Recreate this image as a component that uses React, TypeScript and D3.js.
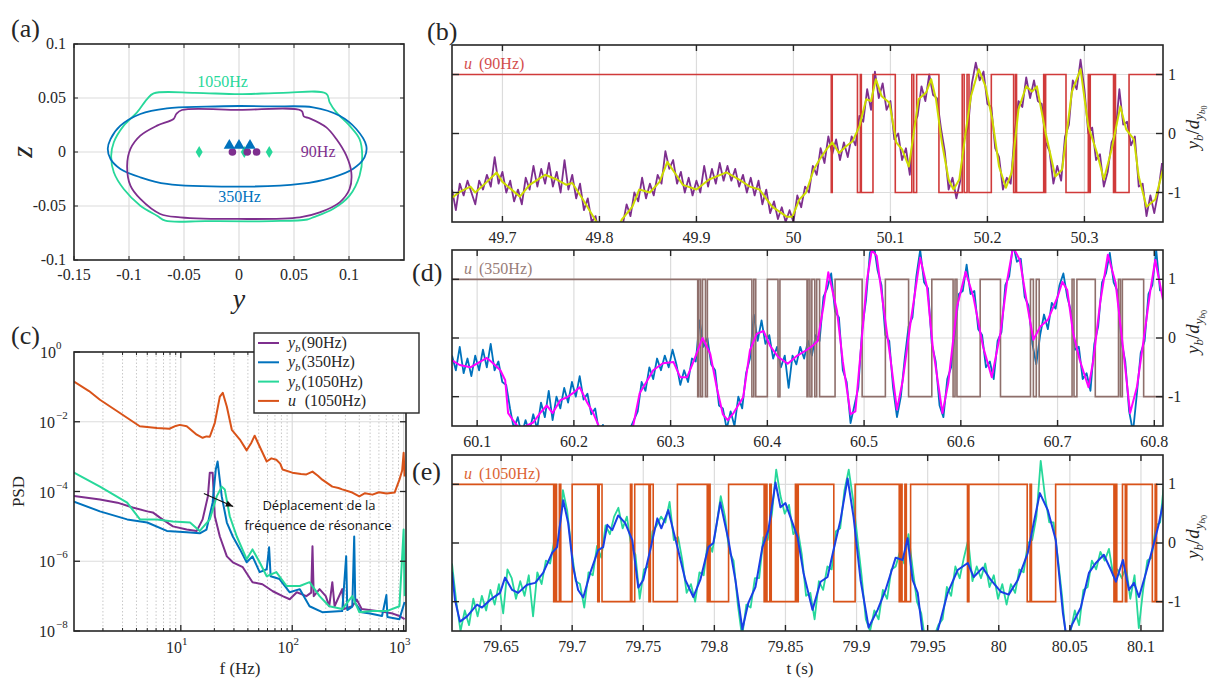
import React from "react";
import * as d3 from "d3";

// ======================= DATA =======================
// ---- Panel (a): contours in the (y, z) plane ----
const CONTOUR_1050: [number, number][] = [
  [-0.0776, 0.0543], [-0.04, 0.0548], [0, 0.0535], [0.04, 0.0548], [0.0794, 0.054],
  [0.0824, 0.046], [0.0885, 0.0367], [0.1005, 0.0244], [0.1096, 0.012], [0.112, -0.0034],
  [0.1096, -0.0219], [0.1005, -0.0404], [0.0854, -0.0528], [0.0673, -0.0605], [0.062, -0.0625],
  [0.03, -0.064], [-0.03, -0.064], [-0.067, -0.0636], [-0.0745, -0.059], [-0.0897, -0.0497],
  [-0.1048, -0.0343], [-0.1138, -0.0188], [-0.1162, -0.0034], [-0.1138, 0.009], [-0.1048, 0.0244],
  [-0.0927, 0.0367], [-0.0836, 0.049],
];
const CONTOUR_350: [number, number][] = [
  [-0.1193, 0.003], [-0.1168, 0.012], [-0.1078, 0.0244], [-0.0897, 0.0352], [-0.0655, 0.0404],
  [-0.03, 0.042], [0, 0.0426], [0.03, 0.0422], [0.0673, 0.0414], [0.0915, 0.0336],
  [0.1066, 0.0213], [0.1157, 0.0058], [0.1141, -0.005], [0.1035, -0.0157], [0.0854, -0.0234],
  [0.0553, -0.0296], [0, -0.0321], [-0.0655, -0.0296], [-0.0897, -0.0234], [-0.1078, -0.0157],
  [-0.1168, -0.0065],
];
const CONTOUR_90: [number, number][] = [
  [-0.0519, 0.0389], [0, 0.039], [0.0568, 0.0383], [0.0589, 0.033], [0.0643, 0.0312],
  [0.0794, 0.0228], [0.0885, 0.012], [0.0976, -0.0034], [0.1021, -0.0188], [0.1005, -0.0343],
  [0.0915, -0.0466], [0.0734, -0.0559], [0.0553, -0.0605], [0, -0.062], [-0.0534, -0.0605],
  [-0.0716, -0.0574], [-0.0897, -0.0435], [-0.0987, -0.0312], [-0.1017, -0.0127], [-0.0987, 0.0028],
  [-0.0897, 0.0151], [-0.0745, 0.0244], [-0.0595, 0.0306], [-0.057, 0.0352],
];
const MARK_350_Y = [-0.0088, 0, 0.01];
const MARK_350_Z = [0.006, 0.006, 0.006];
const MARK_90_Y = [-0.006, 0.0075, 0.016];
const MARK_90_Z = [0, 0, 0];
const MARK_1050_Y = [-0.0362, 0.0048, 0.0275];
const MARK_1050_Z = [0, 0, 0];
const A_XTICKS = [-0.15, -0.1, -0.05, 0, 0.05, 0.1];
const A_YTICKS = [-0.1, -0.05, 0, 0.05, 0.1];

// ---- Panel (c): PSD (frequency in Hz, log10 of PSD) ----
const U1050_F = [1.1, 1.5, 1.88, 2.84, 4.28, 6.1, 7.9, 9.0, 9.8, 11.3, 13.9, 15.7, 17.0, 18.2, 20.2, 22.4, 23.8, 25.9, 28.7, 33.9, 39, 43, 46, 51, 59, 65, 72, 78, 82, 100, 120, 134, 152, 170, 186, 229, 260, 281, 346, 400, 450, 525, 600, 703, 830, 917, 970, 1000, 1020];
const U1050_LP = [-0.85, -1.12, -1.37, -1.75, -2.13, -2.18, -2.2, -2.12, -2.09, -2.13, -2.37, -2.46, -2.42, -2.43, -2.03, -1.28, -1.17, -1.57, -2.23, -2.51, -2.82, -2.6, -2.4, -2.71, -3.14, -3.05, -3.09, -3.2, -3.37, -3.46, -3.5, -3.51, -3.43, -3.55, -3.66, -3.86, -3.9, -3.94, -4.03, -4.14, -4.05, -4.09, -4.02, -4.06, -4.03, -3.66, -3.4, -2.89, -3.57];
const Y90_F = [1.1, 1.88, 2.7, 3.7, 5.0, 5.6, 6.5, 8.5, 11.3, 13.9, 15.7, 17.5, 18.2, 19.3, 20.2, 22.4, 25.9, 29.3, 36, 44, 54, 67, 82, 95, 110, 134, 148, 152, 156, 176, 200, 215, 229, 240, 281, 290, 346, 380, 420, 600, 800, 917, 1020];
const Y90_LP = [-4.13, -4.23, -4.32, -4.46, -4.57, -4.6, -4.75, -5.0, -5.09, -5.13, -4.8, -4.14, -3.46, -3.46, -4.71, -5.29, -5.86, -6.03, -6.17, -6.6, -6.66, -6.86, -7.0, -7.09, -6.89, -7.0, -6.9, -5.57, -7.0, -6.8, -7.0, -7.29, -6.6, -7.29, -6.8, -7.37, -7.29, -7.1, -7.37, -7.43, -7.5, -7.57, -7.66];
const Y350_F = [1.1, 1.88, 3.3, 5, 7.5, 11.3, 14.8, 17, 19.3, 20.6, 21.4, 23.3, 25.9, 29.3, 34, 39, 44, 51, 59, 62, 64, 77, 95, 117, 143, 186, 281, 305, 312, 346, 360, 368, 420, 500, 640, 700, 715, 917, 1020];
const Y350_LP = [-4.29, -4.57, -4.8, -4.89, -5.13, -5.17, -5.2, -5.09, -4.32, -3.37, -3.14, -4.14, -4.89, -5.29, -5.66, -6.03, -5.86, -6.31, -6.23, -5.6, -6.43, -6.51, -6.89, -6.8, -7.29, -7.46, -7.43, -5.86, -7.4, -7.3, -5.29, -7.2, -7.46, -7.5, -7.57, -6.97, -7.6, -7.66, -7.17];
const Y1050_F = [1.1, 1.88, 3.3, 4.3, 6.1, 8.5, 12.1, 14.8, 18.2, 21, 23.3, 24.8, 27.5, 31.8, 39, 44, 51, 59, 72, 89, 117, 143, 176, 215, 281, 346, 400, 525, 703, 917, 1000, 1020];
const Y1050_LP = [-3.46, -3.86, -4.32, -4.8, -4.8, -4.86, -4.89, -5.13, -4.8, -4.14, -3.86, -3.94, -4.71, -5.29, -5.94, -5.66, -6.03, -6.43, -6.31, -6.71, -6.71, -6.6, -7.0, -7.29, -7.37, -7.0, -7.46, -7.43, -7.43, -7.29, -5.09, -7.0];
const C_XMAJOR = [10, 100, 1000];
const C_YMAJOR = [0, -2, -4, -6, -8];
const LEGEND_LABELS = ["90Hz", "350Hz", "1050Hz", "1050Hz"];

// ---- Panel (b): 90 Hz ----
const B_TICKS = [49.7, 49.8, 49.9, 50, 50.1, 50.2, 50.3];
const B_RAW_START = 49.648;
const B_RAW_STEP = 0.004;
const B_RAW = [
  -0.95, -1.30, -0.85, -1.05, -0.80, -1.00, -1.20, -0.80, -0.95, -0.70,
  -0.90, -0.40, -0.85, -0.65, -1.00, -0.80, -1.15, -0.95, -1.20, -0.75,
  -0.95, -0.55, -0.90, -0.60, -0.85, -0.50, -0.90, -0.65, -1.00, -0.45,
  -0.95, -0.70, -1.10, -0.85, -1.30, -1.10, -1.50, -1.40, -1.75, -1.70,
  -1.90, -1.80, -1.90, -1.60, -1.55, -1.20, -1.40, -1.00, -1.15, -0.75,
  -1.10, -0.85, -1.05, -0.70, -0.85, -0.30, -0.60, -0.45, -0.85, -0.65,
  -1.00, -0.75, -1.05, -0.80, -1.00, -0.55, -0.90, -0.60, -0.85, -0.50,
  -0.80, -0.55, -0.80, -0.60, -0.90, -0.70, -1.00, -0.75, -1.05, -0.80,
  -1.20, -0.95, -1.35, -1.15, -1.45, -1.25, -1.50, -1.30, -1.50, -1.05,
  -1.25, -0.90, -1.00, -0.55, -0.70, -0.25, -0.50, -0.05, -0.35, -0.10,
  -0.45, -0.15, -0.40, -0.05, -0.20, 0.30, 0.20, 0.75, 0.40, 1.05,
  0.60, 0.85, 0.40, 0.55, -0.10, 0.00, -0.45, -0.25, -0.70, 0.15,
  0.30, 0.80, 0.55, 1.00, 0.65, 0.60, 0.10, -0.30, -0.95, -0.75,
  -1.10, -0.80, -0.10, 0.10, 0.85, 1.20, 0.90, 1.05, 0.50, 0.45,
  -0.25, -0.40, -0.95, -0.75, -0.85, 0.00, 0.55, 0.45, 0.95, 0.60,
  0.90, 0.55, 0.50, -0.15, -0.30, -0.85, -0.55, -0.80, -0.05, 0.15,
  0.90, 0.75, 1.25, 0.75, 0.00, 0.10, -0.45, -0.35, -0.90, -0.65,
  -0.15, 0.00, 0.75, 0.15, 0.20, -0.20, -0.05, -0.90, -0.85, -1.40,
  -1.05, -1.35, -1.00, -0.50,
];
const B_SMOOTH_T = [49.648, 49.656, 49.667, 49.672, 49.684, 49.694, 49.700, 49.718, 49.728, 49.744, 49.756, 49.766, 49.772, 49.783, 49.797, 49.805, 49.815, 49.823, 49.834, 49.841, 49.852, 49.862, 49.870, 49.879, 49.886, 49.900, 49.913, 49.931, 49.944, 49.955, 49.965, 49.978, 49.993, 49.999, 50.006, 50.013, 50.021, 50.027, 50.034, 50.040, 50.047, 50.054, 50.061, 50.068, 50.075, 50.080, 50.085, 50.091, 50.099, 50.106, 50.112, 50.119, 50.124, 50.129, 50.137, 50.142, 50.147, 50.153, 50.160, 50.165, 50.171, 50.178, 50.183, 50.191, 50.198, 50.205, 50.212, 50.219, 50.225, 50.232, 50.240, 50.246, 50.251, 50.260, 50.270, 50.277, 50.287, 50.296, 50.304, 50.313, 50.320, 50.328, 50.337, 50.343, 50.351, 50.356, 50.364, 50.373, 50.381];
const B_SMOOTH_V = [-1.09, -0.99, -0.90, -1.00, -0.82, -0.66, -0.82, -1.07, -0.87, -0.70, -0.78, -0.87, -0.84, -1.12, -1.50, -1.80, -1.80, -1.46, -1.24, -0.95, -1.00, -0.82, -0.48, -0.70, -0.87, -0.95, -0.78, -0.66, -0.78, -0.90, -0.95, -1.24, -1.41, -1.41, -1.12, -1.00, -0.61, -0.44, -0.27, -0.15, -0.33, -0.22, -0.13, 0.12, 0.58, 0.55, 0.92, 0.63, 0.52, -0.15, -0.27, -0.56, 0.01, 0.58, 0.70, 0.92, 0.58, -0.15, -0.78, -0.95, -0.78, 0.07, 0.63, 1.09, 0.80, 0.24, -0.56, -0.92, -0.66, 0.41, 0.80, 0.71, 0.80, 0.01, -0.73, -0.61, 0.70, 1.09, 0.12, -0.33, -0.78, -0.27, 0.46, 0.07, -0.10, -0.73, -1.24, -1.12, -0.61];
const B_U_SWITCH = [50.039, 50.040, 50.066, 50.069, 50.070, 50.082, 50.105, 50.122, 50.124, 50.127, 50.150, 50.174, 50.176, 50.179, 50.181, 50.204, 50.227, 50.229, 50.230, 50.258, 50.259, 50.260, 50.281, 50.304, 50.305, 50.306, 50.330, 50.331, 50.332, 50.346];

// ---- Panel (d): 350 Hz ----
const D_TICKS = [60.1, 60.2, 60.3, 60.4, 60.5, 60.6, 60.7, 60.8];
const D_RAW_START = 60.074;
const D_RAW_STEP = 0.004;
const D_RAW = [
  -0.30, -0.55, -0.15, -0.60, -0.35, -0.65, -0.30, -0.55, -0.20, -0.50,
  -0.10, -0.55, -0.40, -0.75, -0.80, -1.20, -1.55, -1.35, -1.65, -1.40,
  -1.60, -1.30, -1.55, -1.10, -1.35, -0.90, -1.40, -1.00, -1.20, -0.85,
  -1.10, -0.75, -1.00, -0.65, -1.05, -0.95, -1.30, -1.20, -1.60, -1.48,
  -1.85, -1.75, -1.90, -1.80, -1.85, -1.70, -1.55, -1.40, -1.25, -0.75,
  -0.90, -0.50, -0.70, -0.35, -0.55, -0.30, -0.50, -0.20, -0.45, -0.80,
  -0.55, -0.75, -0.35, -0.40, 0.30, -0.15, 0.00, -0.45, -0.55, -1.15,
  -1.20, -1.55, -1.25, -1.50, -1.00, -1.20, -0.60, -0.35, 0.40, -0.05,
  0.30, -0.10, 0.05, -0.35, -0.15, -0.50, -0.30, -0.85, -0.30, -0.45,
  -0.15, -0.35, -0.05, -0.30, 0.05, -0.05, 0.70, 0.85, 1.10, 0.45,
  0.35, -0.55, -0.75, -1.45, -1.15, -0.85, 0.15, 0.65, 1.45, 1.60,
  1.15, 0.90, 0.05, -0.05, -0.85, -1.35, -1.00, -0.35, 0.20, 0.35,
  1.05, 1.50, 0.95, 0.85, -0.10, -0.40, -1.15, -1.35, -0.70, -0.50,
  0.10, 0.75, 0.80, 1.25, 0.75, 0.80, 0.15, 0.05, -0.50, -0.40,
  -0.70, -0.05, 0.10, 0.90, 1.05, 1.60, 1.30, 1.35, 0.70, 0.55,
  -0.10, -0.45, 0.05, 0.40, 0.15, 0.60, 0.50, 0.90, 1.10, 0.70,
  0.45, -0.20, -0.15, -0.70, -0.60, -0.90, -0.10, 0.20, 0.95, 1.10,
  1.45, 0.95, 0.80, -0.05, -0.40, -1.25, -1.60, -0.95, -0.25, -0.05,
  0.75, 0.90, 1.50, 0.80,
];
const D_SMOOTH_T = [60.074, 60.082, 60.093, 60.110, 60.115, 60.124, 60.129, 60.132, 60.137, 60.144, 60.158, 60.165, 60.172, 60.178, 60.186, 60.193, 60.199, 60.206, 60.214, 60.220, 60.227, 60.237, 60.253, 60.261, 60.268, 60.276, 60.282, 60.292, 60.303, 60.310, 60.317, 60.323, 60.333, 60.341, 60.348, 60.354, 60.359, 60.365, 60.375, 60.382, 60.389, 60.396, 60.403, 60.411, 60.421, 60.431, 60.441, 60.447, 60.452, 60.458, 60.463, 60.472, 60.478, 60.486, 60.491, 60.496, 60.503, 60.508, 60.513, 60.520, 60.527, 60.534, 60.540, 60.548, 60.558, 60.565, 60.571, 60.581, 60.587, 60.596, 60.605, 60.613, 60.623, 60.632, 60.641, 60.648, 60.654, 60.661, 60.669, 60.675, 60.682, 60.690, 60.700, 60.705, 60.710, 60.716, 60.723, 60.732, 60.737, 60.744, 60.752, 60.760, 60.768, 60.775, 60.782, 60.789, 60.796, 60.801, 60.809];
const D_SMOOTH_V = [-0.38, -0.46, -0.50, -0.34, -0.41, -0.55, -0.72, -1.28, -1.40, -1.55, -1.44, -1.28, -1.15, -1.28, -1.06, -1.01, -0.94, -0.84, -1.11, -1.28, -1.55, -1.80, -1.80, -1.52, -0.94, -0.72, -0.55, -0.43, -0.41, -0.67, -0.67, -0.43, 0.00, -0.27, -0.87, -1.30, -1.40, -1.28, -1.01, -0.21, 0.07, 0.12, -0.14, -0.32, -0.44, -0.30, -0.20, -0.13, -0.05, 0.54, 1.12, 0.46, -0.40, -1.30, -1.25, -0.32, 0.99, 1.50, 1.40, 0.53, -0.32, -1.22, -0.72, 0.26, 1.37, 0.87, -0.15, -1.28, -0.77, 0.53, 1.13, 0.70, -0.15, -0.67, 0.09, 0.99, 1.55, 1.33, 0.53, -0.03, 0.19, 0.31, 0.70, 0.96, 0.82, 0.09, -0.38, -0.84, -0.38, 0.60, 1.42, 0.94, -0.21, -1.28, -0.84, -0.03, 0.82, 1.33, 0.65];
const D_U_SWITCH = [60.328, 60.329, 60.331, 60.333, 60.336, 60.338, 60.384, 60.386, 60.388, 60.400, 60.411, 60.413, 60.441, 60.442, 60.444, 60.446, 60.449, 60.451, 60.454, 60.470, 60.498, 60.522, 60.546, 60.570, 60.592, 60.594, 60.596, 60.620, 60.641, 60.672, 60.675, 60.678, 60.681, 60.715, 60.717, 60.720, 60.739, 60.763, 60.765, 60.767, 60.789];

// ---- Panel (e): 1050 Hz ----
const E_TICKS = [79.65, 79.7, 79.75, 79.8, 79.85, 79.9, 79.95, 80, 80.05, 80.1];
const E_RAW_START = 79.6155;
const E_RAW_STEP = 0.003;
const E_RAW = [
  -0.35, -1.00, -1.50, -1.15, -1.40, -0.95, -1.25, -0.90, -1.15, -0.80,
  -1.05, -0.70, -1.20, -0.45, -0.60, -0.95, -0.65, -0.90, -0.55, -1.25,
  -0.50, -0.70, -0.30, -0.35, 0.05, 0.05, 0.90, 0.55, -0.10, -0.65,
  -0.70, -1.10, -0.50, -0.55, -0.05, -0.25, 0.30, 0.15, 0.45, 0.60,
  0.25, 0.45, -0.05, -0.20, -0.95, -0.45, -0.40, 0.20, 0.30, 0.45,
  0.35, 0.70, 0.05, 0.10, -0.30, -0.85, -0.70, -1.00, -0.50, -0.55,
  0.05, -0.15, 0.30, 0.80, 0.45, -0.15, -0.30, -1.05, -1.60, -1.05,
  -1.10, -0.60, -0.60, 0.10, 0.05, 0.50, 1.25, 0.80, 0.50, 0.65,
  0.15, 0.25, -0.20, -0.90, -0.85, -1.30, -0.65, -0.80, -0.40, -0.45,
  0.20, 0.25, 0.90, 1.25, 0.75, 0.10, -0.55, -1.30, -1.50, -1.15,
  -1.30, -0.80, -0.95, -0.45, -0.40, -0.15, -0.35, 0.15, -0.45, -1.00,
  -1.20, -1.70, -1.85, -1.60, -1.40, -1.30, -0.75, -0.90, -0.40, -0.60,
  -0.25, 0.05, -0.65, -0.40, -0.60, -0.35, -0.75, -0.55, -0.95, -0.70,
  -1.05, -0.70, -0.85, -0.45, -0.50, 0.00, 0.05, 0.45, 1.40, 0.80,
  0.35, 0.35, -0.25, -0.90, -1.70, -1.50, -1.15, -1.40, -0.80, -0.75,
  -0.30, -0.45, -0.15, -0.30, -0.10, -0.55, -0.45, -0.60, -0.40, -0.95,
  -0.55, -1.45, -0.80, -0.30, -0.25, 0.30, 0.35, 1.10,
];
const E_SMOOTH_T = [79.6155, 79.6176, 79.6211, 79.6261, 79.6331, 79.6366, 79.6423, 79.6493, 79.6528, 79.6578, 79.6620, 79.6683, 79.6740, 79.6796, 79.6859, 79.6894, 79.6937, 79.6972, 79.7007, 79.7042, 79.7078, 79.7127, 79.7183, 79.7218, 79.7247, 79.7282, 79.7324, 79.7373, 79.7423, 79.7465, 79.7500, 79.7549, 79.7599, 79.7627, 79.7676, 79.7740, 79.7796, 79.7852, 79.7901, 79.7958, 79.7993, 79.8042, 79.8099, 79.8148, 79.8197, 79.8239, 79.8289, 79.8338, 79.8380, 79.8430, 79.8465, 79.8500, 79.8585, 79.8627, 79.8690, 79.8747, 79.8796, 79.8838, 79.8887, 79.8937, 79.8979, 79.9028, 79.9085, 79.9148, 79.9204, 79.9275, 79.9324, 79.9359, 79.9394, 79.9430, 79.9465, 79.9521, 79.9570, 79.9641, 79.9711, 79.9782, 79.9824, 79.9887, 79.9944, 80.0014, 80.0070, 80.0134, 80.0204, 80.0246, 80.0289, 80.0345, 80.0401, 80.0451, 80.0479, 80.0514, 80.0577, 80.0634, 80.0683, 80.0739, 80.0789, 80.0824, 80.0873, 80.0916, 80.0951, 80.0986, 80.1035, 80.1092, 80.1127, 80.1162];
const E_SMOOTH_V = [-0.49, -0.97, -1.34, -1.25, -1.05, -1.10, -0.97, -0.85, -0.59, -0.80, -0.85, -0.71, -0.68, -0.51, -0.17, -0.07, 0.73, 0.34, -0.41, -0.80, -0.93, -0.51, -0.12, -0.07, 0.31, 0.22, 0.47, 0.34, 0.05, -0.76, -0.63, -0.12, 0.42, 0.25, 0.56, -0.07, -0.63, -0.92, -0.63, -0.07, 0.00, 0.69, 0.05, -0.63, -1.47, -1.02, -0.75, -0.07, 0.22, 1.03, 0.61, 0.68, 0.10, -0.51, -1.14, -0.66, -0.58, -0.12, 0.39, 1.10, 0.44, -0.63, -1.44, -1.14, -0.80, -0.25, -0.29, 0.08, -0.63, -0.85, -1.55, -1.80, -1.50, -0.85, -0.46, -0.34, -0.58, -0.42, -0.63, -0.83, -0.88, -0.63, -0.17, 0.34, 0.85, 0.56, 0.05, -1.19, -1.65, -1.40, -1.10, -0.51, -0.34, -0.20, -0.46, -0.66, -0.29, -0.80, -0.68, -0.92, -0.51, 0.00, 0.34, 0.76];
const E_U_SWITCH = [79.687, 79.688, 79.689, 79.691, 79.692, 79.700, 79.718, 79.719, 79.721, 79.741, 79.742, 79.744, 79.754, 79.755, 79.757, 79.774, 79.795, 79.796, 79.797, 79.810, 79.835, 79.836, 79.837, 79.839, 79.840, 79.857, 79.858, 79.859, 79.884, 79.899, 79.930, 79.931, 79.932, 79.934, 79.935, 79.938, 79.978, 79.979, 80.020, 80.022, 80.023, 80.040, 80.081, 80.082, 80.083, 80.087, 80.089, 80.090, 80.108, 80.110, 80.111];
const TIME_YTICKS = [-1, 0, 1];

// ======================= STYLE =======================
const SERIF = "\"Liberation Serif\", \"DejaVu Serif\", \"Noto Serif\", Times, serif";
const SANS = "\"Open Sans\", \"Noto Sans\", sans-serif";
const AX = "#262626";
const GRID = "#DCDCDC";
const PURPLE = "#7E2F8E";
const BLUE = "#0072BD";
const GREEN = "#27D89A";
const ORANGE = "#D95319";
const RED = "#D03A3A";
const YELLOW = "#CDDC00";
const BROWN = "#8E6F6B";
const MAGENTA = "#FF00FF";
const DBLUE = "#1A3FE6";

type Pt = [number, number];

function stepSeries(t0: number, t1: number, sw: number[]): Pt[] {
  const pts: Pt[] = [[t0, 1]];
  let s = 1;
  for (const t of sw) {
    pts.push([t, s]);
    s = -s;
    pts.push([t, s]);
  }
  pts.push([t1, s]);
  return pts;
}

function zipPts(a: number[], b: number[]): Pt[] {
  const n = Math.min(a.length, b.length);
  const out: Pt[] = [];
  for (let i = 0; i < n; i++) out.push([a[i], b[i]]);
  return out;
}

function YLabelRight({ x, y }: { x: number; y: number }) {
  return (
    <text transform={`translate(${x},${y}) rotate(-90)`} textAnchor="middle" fontSize={19} fill={AX}>
      <tspan fontStyle="italic">y</tspan>
      <tspan fontStyle="italic" fontSize={13} dy={4}>b</tspan>
      <tspan dy={-4}>/</tspan>
      <tspan fontStyle="italic">d</tspan>
      <tspan fontStyle="italic" fontSize={13} dy={4}>y</tspan>
      <tspan fontStyle="italic" fontSize={9} dy={2}>b</tspan>
      <tspan fontSize={8} dy={2}>0</tspan>
    </text>
  );
}

type TPProps = {
  cid: string;
  box: [number, number, number, number];
  xDomain: [number, number];
  xTicks: number[];
  raw: number[];
  rawStart: number;
  rawStep: number;
  rawColor: string;
  smT: number[];
  smV: number[];
  smColor: string;
  uSw: number[];
  uColor: string;
  uText: string;
};

function TimePanel(p: TPProps) {
  const [L, T, R, B] = p.box;
  const x = d3.scaleLinear().domain(p.xDomain).range([L, R]);
  const y = d3.scaleLinear().domain([-1.5, 1.5]).range([B, T]);
  const line = d3
    .line<Pt>()
    .x((d) => x(d[0]))
    .y((d) => y(d[1]));
  const rawPts: Pt[] = p.raw.map((v, i) => [p.rawStart + i * p.rawStep, v]);
  const smPts = zipPts(p.smT, p.smV);
  const uPts = stepSeries(p.xDomain[0], p.xDomain[1], p.uSw);
  return (
    <g>
      <clipPath id={p.cid}>
        <rect x={L} y={T} width={R - L} height={B - T} />
      </clipPath>
      {p.xTicks.map((v) => (
        <line key={"gx" + v} x1={x(v)} x2={x(v)} y1={T} y2={B} stroke={GRID} strokeWidth={1.2} />
      ))}
      {TIME_YTICKS.map((v) => (
        <line key={"gy" + v} x1={L} x2={R} y1={y(v)} y2={y(v)} stroke={GRID} strokeWidth={1.2} />
      ))}
      <g clipPath={`url(#${p.cid})`}>
        <path d={line(rawPts) || ""} fill="none" stroke={p.rawColor} strokeWidth={1.8} strokeLinejoin="round" />
        <path d={line(uPts) || ""} fill="none" stroke={p.uColor} strokeWidth={1.6} />
        <path d={line(smPts) || ""} fill="none" stroke={p.smColor} strokeWidth={2} strokeLinejoin="round" />
      </g>
      <rect x={L} y={T} width={R - L} height={B - T} fill="none" stroke={AX} strokeWidth={1.6} />
      {p.xTicks.map((v) => (
        <g key={"tx" + v}>
          <line x1={x(v)} x2={x(v)} y1={B} y2={B - 6} stroke={AX} strokeWidth={1.4} />
          <line x1={x(v)} x2={x(v)} y1={T} y2={T + 6} stroke={AX} strokeWidth={1.4} />
          <text x={x(v)} y={B + 21} textAnchor="middle" fontSize={16} fill={AX}>
            {String(+v.toFixed(3))}
          </text>
        </g>
      ))}
      {TIME_YTICKS.map((v) => (
        <g key={"ty" + v}>
          <line x1={L} x2={L + 7} y1={y(v)} y2={y(v)} stroke={AX} strokeWidth={1.4} />
          <line x1={R} x2={R - 7} y1={y(v)} y2={y(v)} stroke={AX} strokeWidth={1.4} />
          <text x={R + 5} y={y(v) + 5} fontSize={16} fill={AX}>
            {String(v)}
          </text>
        </g>
      ))}
      <text x={L + 12} y={T + 24} fontSize={16} fill={p.uColor} opacity={0.9}>
        <tspan fontStyle="italic">u</tspan>
        <tspan dx={7}>({p.uText})</tspan>
      </text>
      <YLabelRight x={1199} y={(T + B) / 2 - 6} />
    </g>
  );
}

function PanelA() {
  const L = 74, R = 404, T = 44, B = 260;
  const x = d3.scaleLinear().domain([-0.15, 0.15]).range([L, R]);
  const y = d3.scaleLinear().domain([-0.1, 0.1]).range([B, T]);
  const closed = d3
    .line<Pt>()
    .x((d) => x(d[0]))
    .y((d) => y(d[1]))
    .curve(d3.curveCatmullRomClosed.alpha(0.5));
  const tri = d3.symbol().type(d3.symbolTriangle).size(55)() || "";
  const dia = d3.symbol().type(d3.symbolDiamond).size(42)() || "";
  return (
    <g>
      {A_XTICKS.filter((v) => v > -0.15).map((v) => (
        <line key={"agx" + v} x1={x(v)} x2={x(v)} y1={T} y2={B} stroke={GRID} strokeWidth={1.2} />
      ))}
      {A_YTICKS.filter((v) => v > -0.1 && v < 0.1).map((v) => (
        <line key={"agy" + v} x1={L} x2={R} y1={y(v)} y2={y(v)} stroke={GRID} strokeWidth={1.2} />
      ))}
      <path d={closed(CONTOUR_1050) || ""} fill="none" stroke={GREEN} strokeWidth={1.8} />
      <path d={closed(CONTOUR_350) || ""} fill="none" stroke={BLUE} strokeWidth={1.8} />
      <path d={closed(CONTOUR_90) || ""} fill="none" stroke={PURPLE} strokeWidth={1.8} />
      {MARK_1050_Y.map((v, i) => (
        <path key={"md" + i} d={dia} transform={`translate(${x(v)},${y(MARK_1050_Z[i])})`} fill={GREEN} />
      ))}
      {MARK_90_Y.map((v, i) => (
        <circle key={"mc" + i} cx={x(v)} cy={y(MARK_90_Z[i])} r={3.8} fill={PURPLE} />
      ))}
      {MARK_350_Y.map((v, i) => (
        <path key={"mt" + i} d={tri} transform={`translate(${x(v)},${y(MARK_350_Z[i])})`} fill={BLUE} />
      ))}
      <text x={x(-0.015)} y={y(0.065) + 5} textAnchor="middle" fontSize={16} fill={GREEN}>1050Hz</text>
      <text x={x(0.0005)} y={y(-0.042) + 5} textAnchor="middle" fontSize={16} fill={BLUE}>350Hz</text>
      <text x={x(0.072)} y={y(0) + 5} textAnchor="middle" fontSize={16} fill={PURPLE}>90Hz</text>
      <rect x={L} y={T} width={R - L} height={B - T} fill="none" stroke={AX} strokeWidth={1.6} />
      {A_XTICKS.map((v) => (
        <g key={"atx" + v}>
          <line x1={x(v)} x2={x(v)} y1={B} y2={B - 4} stroke={AX} />
          <line x1={x(v)} x2={x(v)} y1={T} y2={T + 4} stroke={AX} />
          <text x={x(v)} y={B + 20} textAnchor="middle" fontSize={16} fill={AX}>{String(v)}</text>
        </g>
      ))}
      {A_YTICKS.map((v) => (
        <g key={"aty" + v}>
          <line x1={L} x2={L + 4} y1={y(v)} y2={y(v)} stroke={AX} />
          <line x1={R} x2={R - 4} y1={y(v)} y2={y(v)} stroke={AX} />
          <text x={L - 8} y={y(v) + 5} textAnchor="end" fontSize={16} fill={AX}>{String(v)}</text>
        </g>
      ))}
      <text transform={`translate(32,${y(0)}) rotate(-90)`} textAnchor="middle" fontSize={30} fontStyle="italic" fill={AX}>z</text>
      <text x={x(0)} y={308} textAnchor="middle" fontSize={28} fontStyle="italic" fill={AX}>y</text>
    </g>
  );
}

function PanelC() {
  const L = 74, R = 406, T = 352, B = 631;
  const x = d3.scaleLog().domain([1.1, 1050]).range([L, R]);
  const y = d3.scaleLinear().domain([-8, 0]).range([B, T]);
  const line = d3
    .line<Pt>()
    .x((d) => x(d[0]))
    .y((d) => y(d[1]));
  const minor: number[] = [];
  [1, 10, 100].forEach((dec) => {
    for (let k = 2; k <= 9; k++) minor.push(dec * k);
  });
  const series = [
    { f: Y90_F, p: Y90_LP, c: PURPLE },
    { f: Y350_F, p: Y350_LP, c: BLUE },
    { f: Y1050_F, p: Y1050_LP, c: GREEN },
    { f: U1050_F, p: U1050_LP, c: ORANGE },
  ];
  const legendColors = [PURPLE, BLUE, GREEN, ORANGE];
  const a0: Pt = [x(16.1), y(-4.06)];
  const a1: Pt = [x(29.5), y(-4.43)];
  const ang = Math.atan2(a1[1] - a0[1], a1[0] - a0[0]);
  const ah = 8;
  const head = [
    a1,
    [a1[0] - ah * Math.cos(ang - 0.4), a1[1] - ah * Math.sin(ang - 0.4)],
    [a1[0] - ah * Math.cos(ang + 0.4), a1[1] - ah * Math.sin(ang + 0.4)],
  ];
  return (
    <g>
      <clipPath id="clipC">
        <rect x={L} y={T} width={R - L} height={B - T} />
      </clipPath>
      {minor.map((v) => (
        <line key={"cm" + v} x1={x(v)} x2={x(v)} y1={T} y2={B} stroke="#C8C8C8" strokeWidth={1} strokeDasharray="1.5,2" />
      ))}
      {C_XMAJOR.map((v) => (
        <line key={"cg" + v} x1={x(v)} x2={x(v)} y1={T} y2={B} stroke={GRID} strokeWidth={1.2} />
      ))}
      {C_YMAJOR.filter((v) => v < 0 && v > -8).map((v) => (
        <line key={"cgy" + v} x1={L} x2={R} y1={y(v)} y2={y(v)} stroke={GRID} strokeWidth={1.2} />
      ))}
      <g clipPath="url(#clipC)">
        {series.map((s, i) => (
          <path key={"cs" + i} d={line(zipPts(s.f, s.p)) || ""} fill="none" stroke={s.c} strokeWidth={2} strokeLinejoin="round" />
        ))}
      </g>
      <rect x={L} y={T} width={R - L} height={B - T} fill="none" stroke={AX} strokeWidth={1.6} />
      {minor.map((v) => (
        <g key={"cmt" + v}>
          <line x1={x(v)} x2={x(v)} y1={B} y2={B - 3} stroke={AX} />
          <line x1={x(v)} x2={x(v)} y1={T} y2={T + 3} stroke={AX} />
        </g>
      ))}
      {C_XMAJOR.map((v) => (
        <g key={"cxt" + v}>
          <line x1={x(v)} x2={x(v)} y1={B} y2={B - 6} stroke={AX} strokeWidth={1.3} />
          <line x1={x(v)} x2={x(v)} y1={T} y2={T + 6} stroke={AX} strokeWidth={1.3} />
          <text x={x(v) - 4} y={B + 22} textAnchor="middle" fontSize={16} fill={AX}>
            10<tspan fontSize={11} dy={-8}>{String(Math.round(Math.log10(v)))}</tspan>
          </text>
        </g>
      ))}
      {C_YMAJOR.map((v) => (
        <g key={"cyt" + v}>
          <line x1={L} x2={L + 6} y1={y(v)} y2={y(v)} stroke={AX} strokeWidth={1.3} />
          <line x1={R} x2={R - 6} y1={y(v)} y2={y(v)} stroke={AX} strokeWidth={1.3} />
          <text x={v === 0 ? 56 : 55} y={y(v) + 6} textAnchor="end" fontSize={16} fill={AX}>10</text>
          <text x={56} y={y(v) - 3} textAnchor="start" fontSize={11} fill={AX}>
            {v === 0 ? "0" : "\u2212" + String(-v)}
          </text>
        </g>
      ))}
      <text transform={`translate(24,${(T + B) / 2}) rotate(-90)`} textAnchor="middle" fontSize={17} fill={AX}>PSD</text>
      <text x={240} y={674} textAnchor="middle" fontSize={17} fill={AX}>f (Hz)</text>
      {/* annotation */}
      <line x1={a0[0]} y1={a0[1]} x2={a1[0]} y2={a1[1]} stroke="#111" strokeWidth={1.1} />
      <path d={"M" + head.map((p) => p.join(",")).join("L") + "Z"} fill="#111" />
      <text x={319} y={510} textAnchor="middle" fontSize={13} style={{ fontFamily: SANS }} fill="#111">Déplacement de la</text>
      <text x={318} y={530} textAnchor="middle" fontSize={13} style={{ fontFamily: SANS }} fill="#111">fréquence de résonance</text>
      {/* legend */}
      <rect x={254} y={333} width={165} height={80} fill="#fff" stroke={AX} strokeWidth={1.4} />
      {LEGEND_LABELS.map((lab, i) => {
        const ry = 343 + i * 19.3;
        return (
          <g key={"lg" + i}>
            <line x1={258} x2={279} y1={ry} y2={ry} stroke={legendColors[i]} strokeWidth={2} />
            <text x={288} y={ry + 5} fontSize={16} fill={AX}>
              <tspan fontStyle="italic">{i < 3 ? "y" : "u"}</tspan>
              {i < 3 ? (
                <tspan fontStyle="italic" fontSize={11} dy={4}>b</tspan>
              ) : (
                <tspan fontSize={11}> </tspan>
              )}
              <tspan dy={i < 3 ? -4 : 0} dx={i < 3 ? 1 : 6}>({lab})</tspan>
            </text>
          </g>
        );
      })}
    </g>
  );
}

export default function App() {
  return (
    <svg
      width={1215}
      height={680}
      style={{ position: "absolute", left: 0, top: 0, background: "#fff", fontFamily: SERIF }}
    >
      <style>{`text { font-family: ${SERIF}; }`}</style>
      <rect width={1215} height={680} fill="#fff" />
      <PanelA />
      <PanelC />
      <TimePanel
        cid="clipB"
        box={[452, 45, 1163, 222]}
        xDomain={[49.648, 50.381]}
        xTicks={B_TICKS}
        raw={B_RAW}
        rawStart={B_RAW_START}
        rawStep={B_RAW_STEP}
        rawColor={PURPLE}
        smT={B_SMOOTH_T}
        smV={B_SMOOTH_V}
        smColor={YELLOW}
        uSw={B_U_SWITCH}
        uColor={RED}
        uText="90Hz"
      />
      <TimePanel
        cid="clipD"
        box={[452, 250, 1163, 426]}
        xDomain={[60.074, 60.809]}
        xTicks={D_TICKS}
        raw={D_RAW}
        rawStart={D_RAW_START}
        rawStep={D_RAW_STEP}
        rawColor={BLUE}
        smT={D_SMOOTH_T}
        smV={D_SMOOTH_V}
        smColor={MAGENTA}
        uSw={D_U_SWITCH}
        uColor={BROWN}
        uText="350Hz"
      />
      <TimePanel
        cid="clipE"
        box={[452, 455, 1163, 631]}
        xDomain={[79.6155, 80.1155]}
        xTicks={E_TICKS}
        raw={E_RAW}
        rawStart={E_RAW_START}
        rawStep={E_RAW_STEP}
        rawColor={GREEN}
        smT={E_SMOOTH_T}
        smV={E_SMOOTH_V}
        smColor={DBLUE}
        uSw={E_U_SWITCH}
        uColor={ORANGE}
        uText="1050Hz"
      />
      <text x={800} y={674} textAnchor="middle" fontSize={17} fill={AX}>t (s)</text>
      <text x={11} y={37} fontSize={26} fill={AX}>(a)</text>
      <text x={11} y={344} fontSize={26} fill={AX}>(c)</text>
      <text x={427} y={40} fontSize={26} fill={AX}>(b)</text>
      <text x={412} y={281} fontSize={26} fill={AX}>(d)</text>
      <text x={412} y={480} fontSize={26} fill={AX}>(e)</text>
    </svg>
  );
}
